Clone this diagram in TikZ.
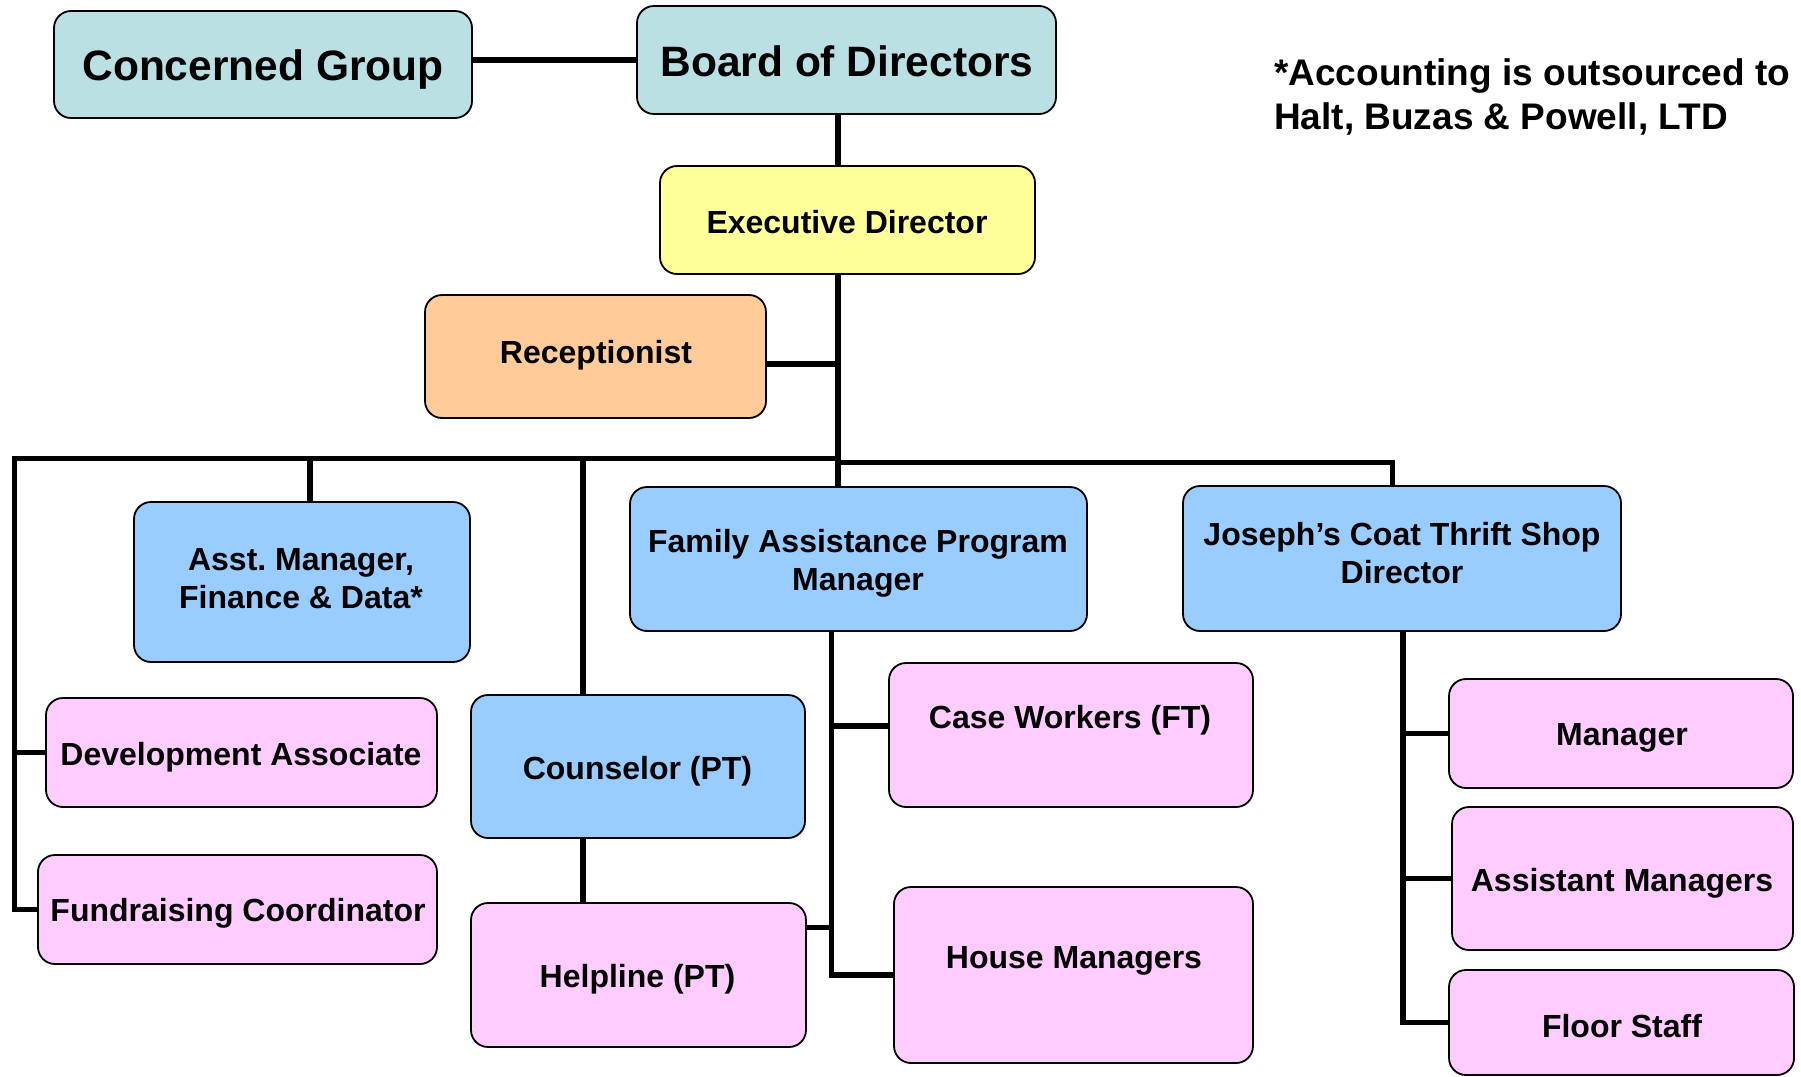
\documentclass[tikz,border=0pt]{standalone}
\usepackage{fontspec}
\setmainfont{Liberation Sans}
\frenchspacing
\definecolor{cteal}{HTML}{BAE0E3}
\definecolor{cyel}{HTML}{FFFF99}
\definecolor{corg}{HTML}{FFCC99}
\definecolor{cblue}{HTML}{99CCFF}
\definecolor{cpink}{HTML}{FFCCFF}
\begin{document}
\begin{tikzpicture}[x=1pt,y=-1pt,
  box/.style={draw=black, line width=1.8pt, rounded corners=17pt, inner sep=0pt, outer sep=0pt},
  tbig/.style={inner sep=0pt, anchor=base, font=\fontsize{42.5}{50}\selectfont\bfseries},
  tmid/.style={inner sep=0pt, anchor=base, font=\fontsize{32}{38}\selectfont\bfseries},
  tnote/.style={inner sep=0pt, anchor=base west, font=\fontsize{37}{44}\selectfont\bfseries},
  conn/.style={draw=black, line width=5.5pt, line join=miter, line cap=butt}]
\useasboundingbox (0,0) rectangle (1801,1076);

% boxes
\node[box, fill=cteal, minimum width=418pt, minimum height=107pt] (cg) at (263,64.5) {};
\node[box, fill=cteal, minimum width=419pt, minimum height=108pt] (bod) at (846.5,60) {};
\node[box, fill=cyel, minimum width=375pt, minimum height=108pt] (exec) at (847.5,220) {};
\node[box, fill=corg, minimum width=341pt, minimum height=123pt] (rec) at (595.5,356.5) {};
\node[box, fill=cblue, minimum width=336pt, minimum height=160pt] (asst) at (302,582) {};
\node[box, fill=cblue, minimum width=457pt, minimum height=144pt] (fapm) at (858.5,559) {};
\node[box, fill=cblue, minimum width=438pt, minimum height=145pt] (jc) at (1402,558.5) {};
\node[box, fill=cpink, minimum width=391pt, minimum height=109pt] (dev) at (241.5,752.5) {};
\node[box, fill=cpink, minimum width=399pt, minimum height=109pt] (fund) at (237.5,909.5) {};
\node[box, fill=cblue, minimum width=334pt, minimum height=143pt] (coun) at (638,766.5) {};
\node[box, fill=cpink, minimum width=335pt, minimum height=144pt] (help) at (638.5,975) {};
\node[box, fill=cpink, minimum width=364pt, minimum height=144pt] (cw) at (1071,735) {};
\node[box, fill=cpink, minimum width=359pt, minimum height=176pt] (hm) at (1073.5,975) {};
\node[box, fill=cpink, minimum width=344pt, minimum height=109pt] (mgr) at (1621,733.5) {};
\node[box, fill=cpink, minimum width=341pt, minimum height=143pt] (am) at (1622.5,878.5) {};
\node[box, fill=cpink, minimum width=345pt, minimum height=105pt] (fs) at (1621.5,1022.5) {};

% texts
\node[tbig] (cgt) at (263,80.5) {Concerned Group};
\node[tbig] (bodt) at (847,76.5) {Board of Directors};
\node[tmid] (exect) at (847,233.5) {Executive Director};
\node[tmid] (rect) at (596,363.5) {Receptionist};
\node[tmid] (asstt) at (301,570) {\begin{tabular}[t]{@{}c@{}}Asst. Manager,\\Finance \& Data*\end{tabular}};
\node[tmid] (fapmt) at (858,552.5) {\begin{tabular}[t]{@{}c@{}}Family Assistance Program\\Manager\end{tabular}};
\node[tmid] (jct) at (1402,545.5) {\begin{tabular}[t]{@{}c@{}}Joseph’s Coat Thrift Shop\\Director\end{tabular}};
\node[tmid] (devt) at (241,765) {Development Associate};
\node[tmid] (fundt) at (238,921) {Fundraising Coordinator};
\node[tmid] (count) at (637.5,779) {Counselor (PT)};
\node[tmid] (helpt) at (637.5,987) {Helpline (PT)};
\node[tmid] (cwt) at (1070,728) {Case Workers (FT)};
\node[tmid] (hmt) at (1074,968) {House Managers};
\node[tmid] (mgrt) at (1622,745) {Manager};
\node[tmid] (amt) at (1622,891) {Assistant Managers};
\node[tmid] (fst) at (1622,1037) {Floor Staff};
\node[tnote] (note) at (1274,85) {\begin{tabular}[t]{@{}l@{}}*Accounting is outsourced to\\Halt, Buzas \& Powell, LTD\end{tabular}};

% junction coordinates
\coordinate (mx) at (838,0);
\coordinate (busL) at (14.5,458.5);
\coordinate (busR) at (1392.5,462.5);
\coordinate (ax) at (310,0);
\coordinate (cx) at (583,0);
\coordinate (fx) at (831.5,0);
\coordinate (jx) at (1403,0);
\coordinate (recj) at (838,364);
\coordinate (cwj) at (0,726);
\coordinate (helpj) at (0,927.5);

% connectors
\draw[conn] (cg.east |- bod.west) -- (bod.west);
\draw[conn] (bod.south -| mx) -- (exec.north -| mx);
\draw[conn] (exec.south -| mx) -- (fapm.north -| mx);
\draw[conn] (rec.east |- recj) -- (recj);
\draw[conn] (mx |- busL) -- (busL) -- (busL |- fund.west) -- (fund.west);
\draw[conn] (busL |- dev.west) -- (dev.west);
\draw[conn] (ax |- busL) -- (ax |- asst.north);
\draw[conn] (cx |- busL) -- (cx |- coun.north);
\draw[conn] (cx |- coun.south) -- (cx |- help.north);
\draw[conn] (mx |- busR) -- (busR) -- (busR |- jc.north);
\draw[conn] (fx |- fapm.south) -- (fx |- hm.west) -- (hm.west);
\draw[conn] (fx |- cwj) -- (cw.west |- cwj);
\draw[conn] (help.east |- helpj) -- (fx |- helpj);
\draw[conn] (jx |- jc.south) -- (jx |- fs.west) -- (fs.west);
\draw[conn] (jx |- mgr.west) -- (mgr.west);
\draw[conn] (jx |- am.west) -- (am.west);
\end{tikzpicture}
\end{document}
